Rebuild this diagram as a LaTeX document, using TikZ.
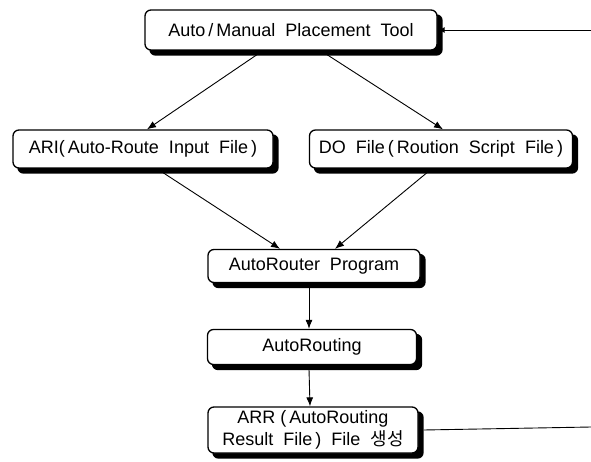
\documentclass[tikz,border=0pt]{standalone}
\usepackage{fontspec}
\setmainfont{Liberation Sans}
\newfontfamily\kor{Noto Sans CJK KR}
\usepackage{tikz}
\usetikzlibrary{arrows.meta}
\tikzset{flowbox/.style={rectangle,rounded corners=6pt,draw=black,line width=1.3pt,fill=white,
           align=center,inner sep=0pt,font=\fontsize{18}{22}\selectfont},
         boxshadow/.style={fill=black,rounded corners=6pt},
         flowline/.style={line width=0.9pt,-{Latex[length=9pt,width=7pt]}}}
\pgfdeclarelayer{background}
\pgfsetlayers{background,main}

\begin{document}
\begin{tikzpicture}[x=1pt,y=1pt]
\useasboundingbox (0,0) rectangle (591,-462);

%%boxes of the flow
\node[flowbox,minimum width=292pt,minimum height=40pt] (place) at (291,-30) {Auto\,/\,Manual\ \ Placement\ \ Tool};
\node[flowbox,minimum width=260pt,minimum height=38pt] (ari) at (143,-149) {ARI(\,Auto-Route\ \ Input\ \ File\,)};
\node[flowbox,minimum width=263pt,minimum height=38pt] (dofile) at (441,-149) {DO\ \ File\,(\,Roution\ \ Script\ \ File\,)};
\node[flowbox,minimum width=212pt,minimum height=33pt] (router) at (314,-266) {AutoRouter\ \ Program};
\node[flowbox,minimum width=209pt,minimum height=35pt] (routing) at (312,-347) {AutoRouting};
\node[flowbox,minimum width=210pt,minimum height=46pt] (arr) at (313,-430) {ARR\ (\,AutoRouting\\Result\ \ File\,)\ \ File\ \ {\kor 생성}};

%%shadows behind the boxes
\begin{pgfonlayer}{background}
\foreach \b in {place,ari,dofile,router,routing,arr}
  \fill[boxshadow] ([shift={(5pt,-5pt)}]\b.south west) rectangle ([shift={(5pt,-5pt)}]\b.north east);
\end{pgfonlayer}

%%free ends at the right margin
\coordinate (back) at (591,-30);
\coordinate (out) at (591,-427);

\draw[flowline] ([xshift=-34pt,yshift=-4pt]place.south) -- ([xshift=4pt]ari.north);
\draw[flowline] ([xshift=36pt,yshift=-4pt]place.south) -- ([xshift=2pt]dofile.north);
\draw[flowline] ([xshift=20pt,yshift=-4pt]ari.south) -- ([xshift=-34pt]router.north);
\draw[flowline] ([xshift=-14pt,yshift=-4pt]dofile.south) -- ([xshift=21pt]router.north);
\draw[flowline] ([xshift=-5pt,yshift=-4pt]router.south) -- ([xshift=-3pt]routing.north);
\draw[flowline] ([xshift=-3pt,yshift=-4pt]routing.south) -- ([xshift=-3pt]arr.north);
\draw[line width=0.9pt] ([xshift=5pt]arr.east) -- (out);
\draw[line width=0.9pt,-{Latex[length=6pt,width=6pt]}] (back) -- ([xshift=1pt]place.east);
\end{tikzpicture}
\end{document}
